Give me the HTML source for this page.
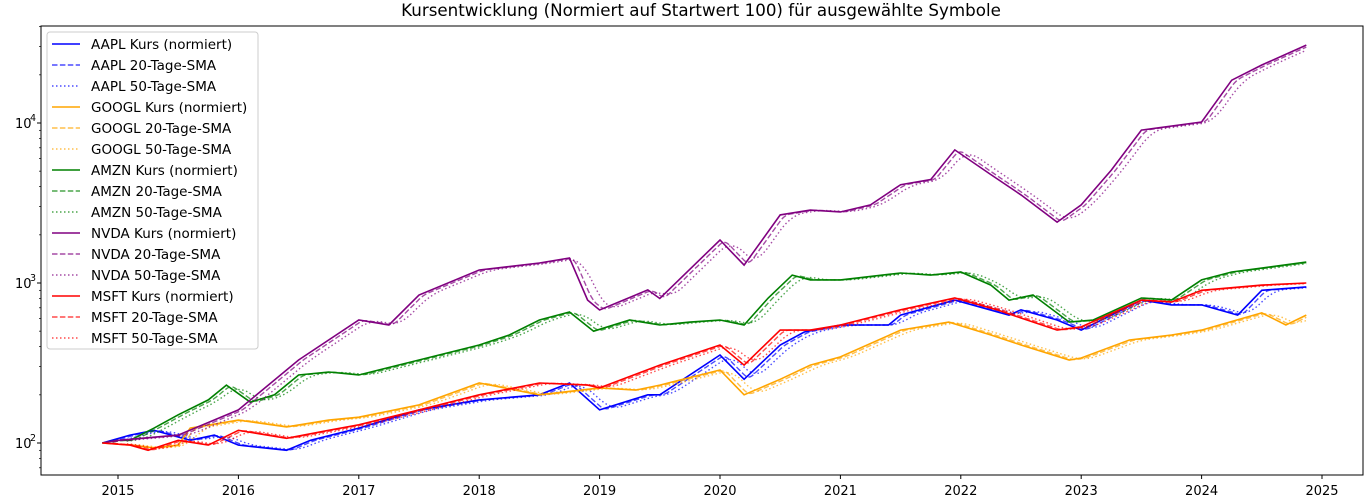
<!DOCTYPE html>
<html><head><meta charset="utf-8"><style>
html,body{margin:0;padding:0;background:#fff}
svg{display:block;font-family:"DejaVu Sans","Liberation Sans",sans-serif}
</style></head><body>
<svg id="chart" width="1369" height="503">
<text x="701" y="16" text-anchor="middle" font-size="16.7">Kursentwicklung (Normiert auf Startwert 100) für ausgewählte Symbole</text>
<g id="plot"></g>
<rect x="41" y="26" width="1322" height="449" fill="none" stroke="#000" stroke-width="1"/>
<g id="axes"></g>
<g id="legend"></g>
</svg>
<script>
const xTicks=[2015,2016,2017,2018,2019,2020,2021,2022,2023,2024,2025];
const yTicks=[2,3,4];
const symbols=["AAPL","GOOGL","AMZN","NVDA","MSFT"];
const colors=["#0000ff","#ffa500","#008000","#800080","#ff0000"];
const aapl=[[2014.87,100],[2015.1,112],[2015.3,120],[2015.6,104],[2015.8,112],[2016.0,97],[2016.4,90],[2016.6,104],[2017.0,124],[2017.5,161],[2018.0,186],[2018.5,200],[2018.75,237],[2019.0,161],[2019.4,200],[2019.5,200],[2020.0,355],[2020.2,250],[2020.5,410],[2020.7,494],[2021.0,546],[2021.4,546],[2021.5,630],[2021.95,782],[2022.4,630],[2022.5,680],[2022.8,587],[2023.0,508],[2023.5,782],[2023.75,730],[2024.0,730],[2024.3,630],[2024.5,900],[2024.87,945]];
const googl=[[2014.87,100],[2015.1,97],[2015.3,93],[2015.5,97],[2015.6,124],[2016.0,139],[2016.4,126],[2016.75,139],[2017.0,145],[2017.5,173],[2018.0,237],[2018.5,200],[2019.0,221],[2019.3,214],[2019.5,230],[2020.0,286],[2020.2,200],[2020.5,250],[2020.75,307],[2021.0,345],[2021.5,508],[2021.9,570],[2022.25,473],[2022.5,410],[2022.9,330],[2023.0,340],[2023.4,440],[2023.75,473],[2024.0,508],[2024.5,650],[2024.7,546],[2024.87,630]];
const amzn=[[2014.87,100],[2015.0,104],[2015.1,104],[2015.3,124],[2015.5,150],[2015.75,186],[2015.9,230],[2016.1,180],[2016.3,200],[2016.5,266],[2016.75,278],[2017.0,266],[2017.5,330],[2018.0,410],[2018.25,473],[2018.5,587],[2018.75,659],[2018.95,500],[2019.25,587],[2019.5,546],[2019.75,570],[2020.0,587],[2020.2,546],[2020.4,806],[2020.6,1120],[2020.75,1045],[2021.0,1045],[2021.5,1155],[2021.75,1120],[2022.0,1171],[2022.25,970],[2022.4,782],[2022.6,842],[2022.9,570],[2023.1,587],[2023.5,806],[2023.75,782],[2024.0,1045],[2024.25,1171],[2024.5,1240],[2024.87,1350]];
const nvda=[[2014.87,100],[2015.0,104],[2015.5,112],[2016.0,161],[2016.5,330],[2017.0,587],[2017.25,546],[2017.5,842],[2018.0,1206],[2018.5,1334],[2018.75,1434],[2018.9,782],[2019.0,678],[2019.4,905],[2019.5,800],[2020.0,1856],[2020.2,1294],[2020.5,2663],[2020.75,2857],[2021.0,2777],[2021.25,3076],[2021.5,4115],[2021.75,4426],[2021.95,6790],[2022.25,4760],[2022.5,3551],[2022.8,2401],[2023.0,3076],[2023.25,5078],[2023.5,9035],[2024.0,10150],[2024.25,18520],[2024.5,23050],[2024.87,30700]];
const msft=[[2014.87,100],[2015.1,97],[2015.25,90],[2015.5,104],[2015.75,97],[2016.0,120],[2016.4,107],[2016.75,120],[2017.0,130],[2017.5,161],[2018.0,200],[2018.5,237],[2018.9,230],[2019.0,221],[2019.5,307],[2020.0,410],[2020.2,307],[2020.5,508],[2020.75,508],[2021.0,546],[2021.5,680],[2021.95,806],[2022.3,680],[2022.5,604],[2022.8,508],[2023.0,532],[2023.5,782],[2023.75,760],[2024.0,900],[2024.5,970],[2024.87,1000]];
const series=[aapl,googl,amzn,nvda,msft];

const NS="http://www.w3.org/2000/svg";
function X(t){return 118+(t-2015)*120.4;}
function Y(v){return 443-(Math.log10(v)-2)*160;}
function mk(tag,attrs,parent){const e=document.createElementNS(NS,tag);for(const k in attrs)e.setAttribute(k,attrs[k]);parent.appendChild(e);return e;}
const plot=document.getElementById('plot'),axes=document.getElementById('axes'),legend=document.getElementById('legend');
function sample(d,t){for(let i=0;i<d.length-1;i++){if(t<=d[i+1][0]){const f=(t-d[i][0])/(d[i+1][0]-d[i][0]);return Math.pow(10,Math.log10(d[i][1])+f*(Math.log10(d[i+1][1])-Math.log10(d[i][1])));}}return d[d.length-1][1];}
function sma(d,win){const step=1/252,out=[];const t0=d[0][0],t1=d[d.length-1][0];const vals=[];for(let t=t0;t<=t1+1e-9;t+=step)vals.push([t,sample(d,t)]);let s=0;for(let i=0;i<vals.length;i++){s+=vals[i][1];if(i>=win)s-=vals[i-win][1];if(i>=win-1&&i%3===0)out.push([vals[i][0],s/win]);}return out;}
function path(d){return d.map((p,i)=>(i?'L':'M')+X(p[0]).toFixed(1)+','+Y(p[1]).toFixed(1)).join('');}
series.forEach((d,i)=>{
  const p=mk('path',{d:path(d),fill:'none',stroke:colors[i],'stroke-width':1.6},plot);
  
  
  const s20=mk('path',{d:path(sma(d,20)),fill:'none',stroke:colors[i],'stroke-width':1.4,'stroke-dasharray':'5.5,2.4',opacity:0.7},plot);
  
  
  const s50=mk('path',{d:path(sma(d,50)),fill:'none',stroke:colors[i],'stroke-width':1.4,'stroke-dasharray':'1.5,2.5',opacity:0.7},plot);
  
  
});
xTicks.forEach(t=>{
  const x=X(t);
  const l=mk('line',{x1:x,x2:x,y1:475,y2:479,stroke:'#000'},axes);
  
  
  const tx=mk('text',{x:x,y:495,'text-anchor':'middle','font-size':13},axes);tx.textContent=t;
  
  
});
yTicks.forEach(e=>{
  const y=Y(Math.pow(10,e));
  const l=mk('line',{x1:37,x2:41,y1:y,y2:y,stroke:'#000'},axes);
  
  
  const tx=mk('text',{x:15,y:y+5,'font-size':13},axes);tx.textContent='10';
  
  
  const sp=mk('text',{x:30,y:y-2,'font-size':9.5},axes);sp.textContent=e;
  
  
  for(let m=2;m<10;m++){const v=Math.pow(10,e)*m;const yy=Y(v);if(yy<26||yy>475)continue;
    const ml=mk('line',{x1:39,x2:41,y1:yy,y2:yy,stroke:'#000','stroke-width':0.7},axes);
    
    }
});
for(let m=7;m<10;m++){const yy=Y(10*m);const ml=mk('line',{x1:39,x2:41,y1:yy,y2:yy,stroke:'#000','stroke-width':0.7},axes);
  
  }
const box=mk('rect',{x:47,y:32,width:211,height:317,rx:3,fill:'#fff','fill-opacity':0.8,stroke:'#ccc'},legend);


const labels=[' Kurs (normiert)',' 20-Tage-SMA',' 50-Tage-SMA'];
const dashes=[null,'5.5,2.4','1.5,2.5'];
let k=0;
symbols.forEach((s,i)=>{labels.forEach((lb,j)=>{
  const y=44+k*21;
  const a={x1:52,x2:80,y1:y,y2:y,stroke:colors[i],'stroke-width':1.6};
  if(dashes[j]){a['stroke-dasharray']=dashes[j];a.opacity=0.7;}
  const l=mk('line',a,legend);
  
  
  const t=mk('text',{x:91,y:y+5,'font-size':13.5},legend);t.textContent=s+lb;
  
  
  k++;});});
</script>
</body></html>
